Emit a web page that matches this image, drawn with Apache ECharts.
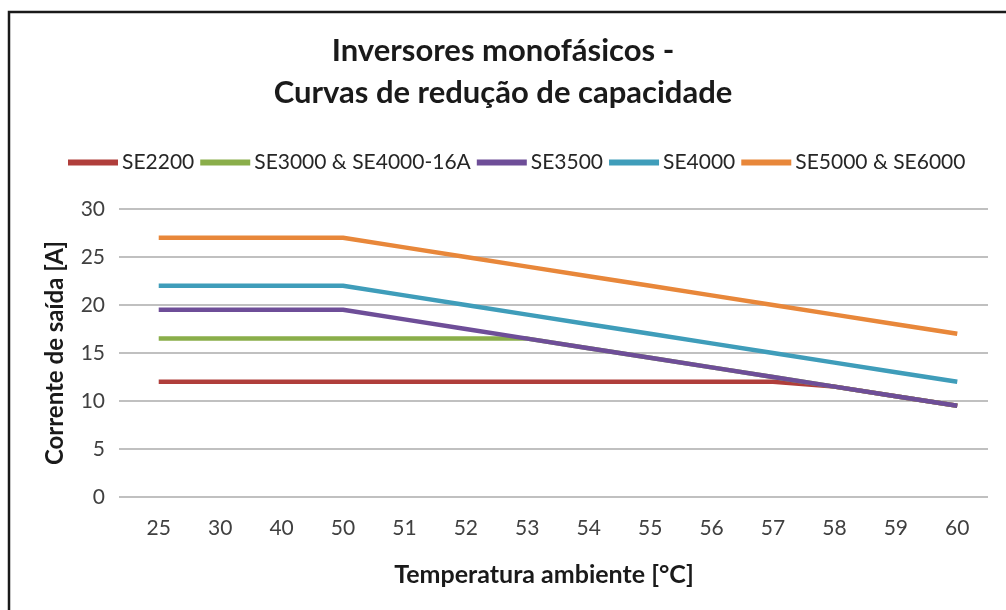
<!DOCTYPE html>
<html><head><meta charset="utf-8">
<script src="https://cdn.jsdelivr.net/npm/echarts@6/dist/echarts.min.js"></script>
<style>html,body{margin:0;padding:0;background:#fff;}#c{width:1006px;height:610px;}</style>
</head><body><div id="c"></div>
<script>
const temps = ['25','30','40','50','51','52','53','54','55','56','57','58','59','60'];
const seriesNames = ['SE2200','SE3000 & SE4000-16A','SE3500','SE4000','SE5000 & SE6000'];
const se2200 = [12,12,12,12,12,12,12,12,12,12,12,11.5,10.5,9.5];
const se3000 = [16.5,16.5,16.5,16.5,16.5,16.5,16.5,15.5,14.5,13.5,12.5,11.5,10.5,9.5];
const se3500 = [19.5,19.5,19.5,19.5,18.5,17.5,16.5,15.5,14.5,13.5,12.5,11.5,10.5,9.5];
const se4000 = [22,22,22,22,21,20,19,18,17,16,15,14,13,12];
const se5000 = [27,27,27,27,26,25,24,23,22,21,20,19,18,17];
const yMin = 0, yMax = 30, yStep = 5;
const colors = ['#B03E3B','#8AAE4A','#6E4E98','#3F9DBA','#E8873A'];
const allData = [se2200, se3000, se3500, se4000, se5000];
const FONT = 'Lato';
const chart = echarts.init(document.getElementById('c'));
chart.setOption({
  animation:false,
  backgroundColor:'#fff',
  graphic:[{type:'rect',shape:{x:9,y:12,width:1100,height:700},style:{fill:'none',stroke:'#1a1a1a',lineWidth:2.5},z:100}],
  title:{text:'Inversores monofásicos -\nCurvas de redução de capacidade',left:'center',top:25,
    textStyle:{fontFamily:FONT,fontSize:31,fontWeight:'bold',color:'#1a1a1a',lineHeight:42}},
  legend:{top:147,left:63,itemWidth:50,itemHeight:6,itemGap:6,icon:'rect',
    textStyle:{fontFamily:FONT,fontSize:21,color:'#262626',padding:[0,0,0,-1]},
    data:seriesNames},
  grid:[{left:119,right:18,top:209,bottom:113},{left:128,right:18,top:209,bottom:113}],
  xAxis:[{type:'value',gridIndex:0,show:false,min:0,max:1},
    {type:'category',gridIndex:1,data:temps,boundaryGap:true,
    axisLine:{show:false},axisTick:{show:false},
    axisLabel:{fontFamily:FONT,fontSize:21,color:'#404040',margin:21},
    name:'Temperatura ambiente [°C]',nameLocation:'middle',nameGap:65,
    nameTextStyle:{fontFamily:FONT,fontSize:25,fontWeight:'bold',color:'#1a1a1a',padding:[0,28,0,0]}}],
  yAxis:[{type:'value',gridIndex:0,min:yMin,max:yMax,interval:yStep,
    axisLine:{show:false},axisTick:{show:false},
    splitLine:{lineStyle:{color:'#c0c0c0',width:2}},
    axisLabel:{fontFamily:FONT,fontSize:21,color:'#404040',margin:14},
    name:'Corrente de saída [A]',nameLocation:'middle',nameGap:52,
    nameTextStyle:{fontFamily:FONT,fontSize:24,fontWeight:'bold',color:'#1a1a1a'}},
    {type:'value',gridIndex:1,min:yMin,max:yMax,interval:yStep,show:false,splitLine:{show:false}}],
  series: seriesNames.map(function(n,i){return {name:n,type:'line',xAxisIndex:1,yAxisIndex:1,data:allData[i],symbol:'none',
    lineStyle:{width:4.5,color:colors[i]},itemStyle:{color:colors[i]},z:2+i};})
});
</script></body></html>
